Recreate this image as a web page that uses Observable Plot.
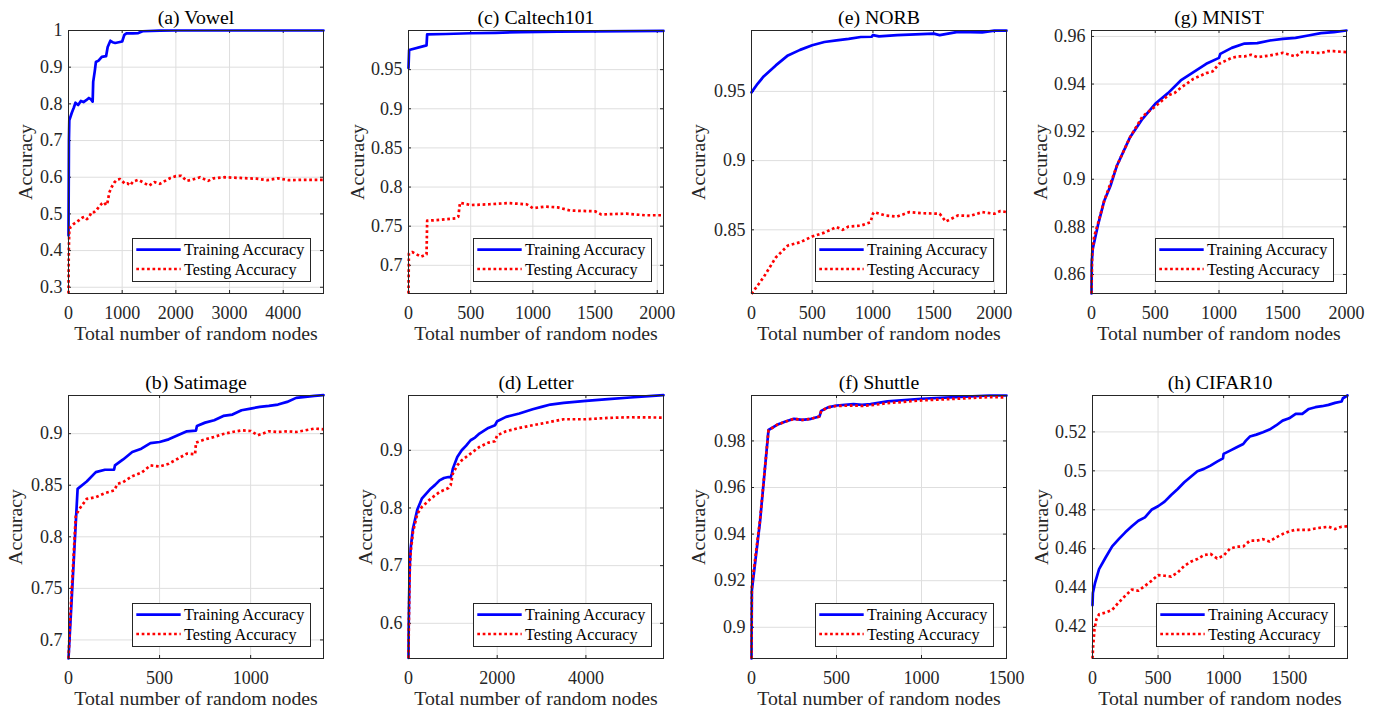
<!DOCTYPE html>
<html><head><meta charset="utf-8">
<script src="https://cdn.jsdelivr.net/npm/d3@7"></script>
<script src="https://cdn.jsdelivr.net/npm/@observablehq/plot@0.6"></script>
<style>
body{margin:0;background:#fff;}
#root{position:relative;width:1380px;height:711px;overflow:hidden;background:#fff;font-family:"Liberation Serif","Times New Roman",serif;}
.panel{position:absolute;}
.legend{position:absolute;background:#fff;border:1px solid #262626;box-sizing:border-box;}
</style></head><body><div id="root"></div>
<script>
// ---------- data: [nodes, accuracy] ----------
const vowelTrain = [[0,0.441],[8,0.70],[15,0.755],[60,0.775],[100,0.79],[130,0.803],[180,0.797],[230,0.808],[280,0.805],[330,0.81],[380,0.816],[420,0.812],[450,0.806],[460,0.86],[490,0.89],[510,0.914],[560,0.918],[620,0.928],[700,0.93],[730,0.955],[780,0.972],[820,0.968],[870,0.966],[1000,0.97],[1040,0.988],[1080,0.992],[1200,0.992],[1300,0.993],[1380,0.998],[1700,0.9995],[2000,1.0],[4750,1.0]];
const vowelTest = [[0,0.283],[5,0.40],[15,0.455],[40,0.465],[100,0.473],[150,0.478],[200,0.483],[260,0.49],[300,0.492],[340,0.486],[380,0.49],[430,0.505],[480,0.505],[520,0.51],[570,0.52],[620,0.528],[660,0.532],[700,0.524],[720,0.526],[760,0.558],[800,0.572],[850,0.585],[900,0.593],[960,0.595],[1000,0.59],[1050,0.582],[1100,0.583],[1150,0.578],[1200,0.588],[1300,0.593],[1400,0.585],[1500,0.577],[1600,0.587],[1700,0.582],[1800,0.59],[1900,0.598],[2000,0.603],[2100,0.604],[2200,0.59],[2300,0.593],[2450,0.6],[2600,0.59],[2700,0.597],[2900,0.6],[3200,0.598],[3500,0.596],[3700,0.592],[3900,0.597],[4100,0.592],[4400,0.593],[4750,0.593]];

const caltechTrain = [[0,0.952],[5,0.975],[145,0.981],[150,0.995],[300,0.9955],[500,0.9965],[700,0.997],[900,0.998],[1200,0.9985],[1500,0.999],[2050,0.9995]];
const caltechTest = [[0,0.664],[3,0.715],[30,0.717],[100,0.711],[145,0.714],[150,0.757],[250,0.758],[380,0.76],[400,0.762],[414,0.78],[500,0.777],[650,0.778],[800,0.7795],[950,0.778],[1000,0.773],[1100,0.775],[1200,0.774],[1300,0.77],[1500,0.769],[1550,0.765],[1750,0.766],[1900,0.764],[2050,0.764]];

const norbTrain = [[0,0.9493],[50,0.9555],[100,0.9608],[200,0.9688],[300,0.976],[400,0.98],[500,0.9833],[600,0.9857],[700,0.9869],[800,0.988],[900,0.9893],[990,0.9895],[1000,0.9907],[1050,0.9898],[1200,0.9907],[1500,0.9917],[1550,0.9907],[1700,0.993],[1900,0.9927],[2000,0.9939],[2100,0.9939]];
const norbTest = [[0,0.8037],[100,0.8158],[200,0.830],[300,0.8387],[400,0.841],[500,0.8452],[600,0.848],[700,0.852],[750,0.85],[800,0.8524],[900,0.853],[980,0.8555],[1000,0.8616],[1010,0.8628],[1100,0.8604],[1200,0.8596],[1300,0.8628],[1400,0.862],[1550,0.8616],[1600,0.856],[1700,0.8604],[1800,0.86],[1900,0.8628],[2000,0.8616],[2050,0.8636],[2100,0.8628]];

const mnistTrain = [[0,0.852],[2,0.8652],[10,0.8708],[50,0.8806],[100,0.891],[150,0.8974],[200,0.9058],[300,0.9174],[400,0.9254],[500,0.9317],[600,0.9362],[700,0.9415],[800,0.945],[900,0.9485],[1000,0.951],[1010,0.9527],[1100,0.9552],[1200,0.957],[1300,0.9572],[1400,0.9583],[1500,0.959],[1600,0.9594],[1700,0.9604],[1800,0.9614],[1900,0.9618],[2000,0.9625]];
const mnistTest = [[0,0.852],[5,0.8687],[20,0.8757],[50,0.8813],[100,0.891],[200,0.9058],[300,0.9174],[400,0.9264],[500,0.9306],[600,0.9352],[650,0.9362],[700,0.9384],[800,0.9422],[900,0.9446],[950,0.9453],[1000,0.9485],[1100,0.951],[1150,0.9516],[1200,0.9516],[1250,0.9523],[1300,0.9513],[1400,0.952],[1500,0.9531],[1600,0.9516],[1650,0.9534],[1700,0.9534],[1800,0.953],[1850,0.9538],[1900,0.9538],[2000,0.9534]];

const satTrain = [[0,0.682],[50,0.8465],[100,0.8536],[150,0.8627],[200,0.865],[250,0.865],[255,0.8692],[300,0.875],[350,0.8822],[400,0.8854],[450,0.8909],[500,0.8919],[550,0.8945],[600,0.8984],[650,0.9023],[700,0.903],[705,0.9075],[750,0.9107],[800,0.913],[850,0.9172],[900,0.9185],[950,0.9227],[1000,0.9243],[1050,0.9259],[1100,0.9269],[1150,0.9282],[1200,0.9308],[1250,0.9347],[1300,0.9357],[1350,0.9366],[1400,0.9373]];
const satTest = [[0,0.682],[10,0.7233],[40,0.8206],[60,0.827],[100,0.8368],[150,0.8384],[200,0.8423],[250,0.8449],[270,0.8514],[300,0.853],[350,0.8588],[400,0.8621],[450,0.8692],[500,0.8682],[550,0.8708],[600,0.8757],[650,0.8806],[695,0.88],[700,0.8913],[750,0.8945],[800,0.8968],[850,0.8997],[900,0.9016],[950,0.9032],[1000,0.9026],[1040,0.8984],[1100,0.9023],[1150,0.9016],[1200,0.9023],[1250,0.9016],[1300,0.9032],[1350,0.9049],[1400,0.9042]];

const letterTrain = [[0,0.54],[5,0.6],[10,0.625],[20,0.67],[30,0.703],[50,0.731],[100,0.764],[200,0.7975],[300,0.816],[400,0.825],[500,0.8334],[600,0.84],[700,0.8479],[800,0.852],[900,0.8537],[950,0.853],[980,0.86],[1000,0.8682],[1100,0.8884],[1200,0.9],[1300,0.908],[1400,0.9174],[1500,0.922],[1600,0.929],[1800,0.9388],[1950,0.9434],[2000,0.9504],[2200,0.9579],[2500,0.9637],[2800,0.9712],[3000,0.9753],[3200,0.9793],[3500,0.9822],[4000,0.9857],[4500,0.9886],[5000,0.9915],[5500,0.9944],[5750,0.9955]];
const letterTest = [[0,0.54],[5,0.58],[10,0.61],[20,0.66],[30,0.6944],[50,0.7234],[100,0.7581],[200,0.79],[300,0.8016],[500,0.8161],[700,0.8276],[900,0.8346],[950,0.8392],[1000,0.8595],[1100,0.874],[1200,0.8826],[1400,0.8942],[1600,0.9058],[1800,0.9133],[1950,0.9156],[2000,0.926],[2200,0.933],[2500,0.9388],[2800,0.9434],[3000,0.9463],[3500,0.9538],[4000,0.9538],[4500,0.9562],[5000,0.9573],[5750,0.9567]];

const shuttleTrain = [[0,0.8866],[2,0.9158],[50,0.9453],[100,0.9847],[150,0.9869],[200,0.9883],[250,0.9895],[300,0.989],[350,0.9895],[400,0.9905],[410,0.9929],[450,0.9944],[500,0.9952],[600,0.9958],[650,0.9955],[700,0.9958],[800,0.997],[1000,0.9981],[1200,0.9988],[1400,0.9995],[1500,0.9995]];
const shuttleTest = [[0,0.8866],[2,0.918],[50,0.946],[100,0.9845],[150,0.9869],[200,0.9883],[250,0.9895],[300,0.989],[350,0.9895],[400,0.9905],[410,0.9929],[450,0.9944],[500,0.995],[600,0.9952],[650,0.995],[700,0.9953],[800,0.9962],[1000,0.9974],[1200,0.9981],[1400,0.9988],[1500,0.9987]];

const cifarTrain = [[0,0.431],[3,0.4372],[20,0.4426],[50,0.4495],[100,0.4555],[150,0.4612],[200,0.4649],[250,0.4684],[300,0.4715],[350,0.4744],[400,0.4761],[450,0.48],[500,0.4818],[550,0.4842],[600,0.4876],[650,0.4907],[700,0.4941],[750,0.497],[800,0.4998],[850,0.501],[900,0.5027],[950,0.5047],[995,0.5064],[1000,0.5087],[1050,0.5104],[1100,0.5121],[1150,0.5138],[1170,0.5155],[1200,0.5176],[1250,0.5186],[1300,0.5198],[1350,0.5212],[1400,0.5233],[1450,0.5258],[1500,0.527],[1550,0.5293],[1600,0.5293],[1650,0.5318],[1700,0.5327],[1750,0.5332],[1800,0.5339],[1850,0.5349],[1900,0.5356],[1910,0.5373],[1945,0.5387]];
const cifarTest = [[0,0.4036],[5,0.41],[15,0.4186],[30,0.4238],[50,0.4263],[100,0.4272],[150,0.4286],[200,0.4324],[250,0.4358],[300,0.439],[350,0.4384],[400,0.4409],[450,0.4435],[500,0.4464],[550,0.4461],[600,0.4457],[650,0.4478],[700,0.4512],[750,0.4533],[800,0.4547],[850,0.4567],[900,0.4573],[950,0.455],[1000,0.4564],[1050,0.4601],[1100,0.461],[1150,0.4612],[1200,0.4641],[1250,0.4641],[1300,0.4649],[1350,0.4637],[1400,0.4658],[1450,0.4675],[1500,0.4689],[1550,0.4697],[1600,0.4697],[1650,0.4697],[1700,0.4704],[1750,0.4709],[1800,0.4713],[1850,0.4701],[1900,0.4713],[1945,0.4715]];

// ---------- titles & ticks ----------
const titles = ["(a) Vowel","(c) Caltech101","(e) NORB","(g) MNIST","(b) Satimage","(d) Letter","(f) Shuttle","(h) CIFAR10"];
const xTicksList = [[0,1000,2000,3000,4000],[0,500,1000,1500,2000],[0,500,1000,1500,2000],[0,500,1000,1500,2000],[0,500,1000],[0,2000,4000],[0,500,1000,1500],[0,500,1000,1500]];
const yTicksList = [[0.3,0.4,0.5,0.6,0.7,0.8,0.9,1],[0.7,0.75,0.8,0.85,0.9,0.95],[0.85,0.9,0.95],[0.86,0.88,0.9,0.92,0.94,0.96],[0.7,0.75,0.8,0.85,0.9],[0.6,0.7,0.8,0.9],[0.9,0.92,0.94,0.96,0.98],[0.42,0.44,0.46,0.48,0.5,0.52]];
const xDomains = [[0,4750],[0,2050],[0,2100],[0,2000],[0,1400],[0,5750],[0,1500],[0,1945]];
const yDomains = [[0.283,1],[0.664,1.0],[0.804,0.994],[0.852,0.9625],[0.682,0.937],[0.539,0.995],[0.8866,0.9995],[0.4036,0.5387]];
const trains = [vowelTrain,caltechTrain,norbTrain,mnistTrain,satTrain,letterTrain,shuttleTrain,cifarTrain];
const tests = [vowelTest,caltechTest,norbTest,mnistTest,satTest,letterTest,shuttleTest,cifarTest];
const xLabel = "Total number of random nodes";
const yLabel = "Accuracy";
const seriesNames = ["Training Accuracy","Testing Accuracy"];

// ---------- layout ----------
const boxLeft = [67.7,408.3,750.7,1091,67.7,408.3,750.7,1091.7];
const boxTop = [30,30,30,30,395,395,395,395];
const yLabOff = [-42.7,-51.3,-52.4,-50.5,-52.7,-42.5,-52.4,-50.7];
const W = 255, H = 263, mL = 70, mR = 14, mT = 32, mB = 52;
const FONT = '"Liberation Serif","Times New Roman",serif';
const fmt = d3.format("~g");
const root = document.getElementById("root");

titles.forEach((title, i) => {
  const xt = xTicksList[i], yt = yTicksList[i];
  const chart = Plot.plot({
    width: W + mL + mR, height: H + mT + mB,
    marginLeft: mL, marginRight: mR, marginTop: mT, marginBottom: mB,
    style: {fontFamily: FONT, fontSize: "18px", color: "#262626", background: "transparent", overflow: "visible"},
    x: {domain: xDomains[i], ticks: xt, tickSize: 0, tickPadding: 13, tickFormat: fmt, label: null},
    y: {domain: yDomains[i], ticks: yt, tickSize: 0, tickPadding: 6, tickFormat: fmt, label: null},
    marks: [
      Plot.ruleX(xt, {x: d => d, stroke: "#dedede", strokeWidth: 1}),
      Plot.ruleY(yt, {y: d => d, stroke: "#dedede", strokeWidth: 1}),
      Plot.tickX(xt, {x: d => d, stroke: "#262626", insetTop: H - 3}),
      Plot.tickX(xt, {x: d => d, stroke: "#262626", insetBottom: H - 3}),
      Plot.tickY(yt, {y: d => d, stroke: "#262626", insetRight: W - 3}),
      Plot.tickY(yt, {y: d => d, stroke: "#262626", insetLeft: W - 3}),
      Plot.line(trains[i], {x: d => d[0], y: d => d[1], stroke: "#0000ff", strokeWidth: 2.7, strokeLinejoin: "round"}),
      Plot.line(tests[i], {x: d => d[0], y: d => d[1], stroke: "#ff0000", strokeWidth: 2.7, strokeDasharray: "2.7,2.7", strokeLinecap: "butt"}),
      Plot.frame({stroke: "#262626", strokeWidth: 1}),
      Plot.text([title], {text: d => d, frameAnchor: "top", lineAnchor: "middle", textAnchor: "middle", dy: -12.5, fontSize: 19.8, fill: "#000"}),
      Plot.text([xLabel], {text: d => d, frameAnchor: "bottom", lineAnchor: "middle", textAnchor: "middle", dy: 40.3, fontSize: 19.8, fill: "#262626"}),
      Plot.text([yLabel], {text: d => d, frameAnchor: "left", lineAnchor: "middle", textAnchor: "middle", dx: yLabOff[i], rotate: -90, fontSize: 19.8, fill: "#262626"})
    ]
  });
  const div = document.createElement("div");
  div.className = "panel";
  div.style.left = (boxLeft[i] - mL) + "px";
  div.style.top = (boxTop[i] - mT) + "px";
  div.appendChild(chart);
  root.appendChild(div);

  // legend (HTML overlay, inside lower-right of the axes box)
  const lw = 179, lh = 43.5;
  const lg = document.createElement("div");
  lg.className = "legend";
  lg.style.left = (boxLeft[i] + W - 11.7 - lw) + "px";
  lg.style.top = (boxTop[i] + H - 11.3 - lh) + "px";
  lg.style.width = lw + "px";
  lg.style.height = lh + "px";
  lg.innerHTML = `<svg width="${lw - 2}" height="${lh - 2}" style="display:block;font-family:${FONT.replace(/"/g, "'")};font-size:16.2px">
    <line x1="3.3" x2="47.7" y1="10.7" y2="10.7" stroke="#0000ff" stroke-width="2.7"/>
    <text x="51" y="16.2" fill="#000">${seriesNames[0]}</text>
    <line x1="3.3" x2="47.7" y1="30" y2="30" stroke="#ff0000" stroke-width="2.7" stroke-dasharray="2.7,2.7"/>
    <text x="51" y="35.5" fill="#000">${seriesNames[1]}</text>
  </svg>`;
  root.appendChild(lg);
});
</script>
</body></html>
